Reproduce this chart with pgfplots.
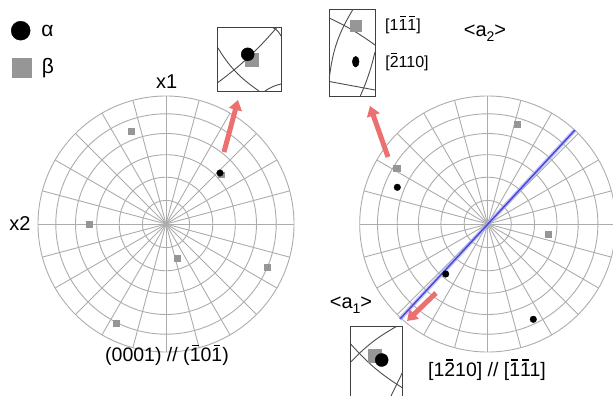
\documentclass[border=0pt]{standalone}
\usepackage{pgfplots}
\pgfplotsset{compat=1.18}
\usepackage{fontspec}
\setmainfont{Liberation Sans}
\usetikzlibrary{arrows.meta}
\newcommand\ob[1]{\setbox0\hbox{#1}\rlap{\hbox to\wd0{\hss\vrule height 0.87em depth -0.81em width 0.62\wd0\hss}}#1}
\definecolor{gridc}{RGB}{172,172,172}
\definecolor{betac}{RGB}{150,150,150}
\definecolor{arrc}{RGB}{236,112,112}
\definecolor{bluel}{RGB}{70,70,215}
\definecolor{blueh}{RGB}{170,170,245}
\newcommand\wulff[2]{%
  \pgfplotsextra{%
    \foreach \r in {23.6,46.8,69.3,90.5,110.2,128}{\draw[gridc,line width=0.9pt] (axis cs:#1,#2) circle[radius=\r pt];}
    \foreach \a in {0,15,...,345}{\draw[gridc,line width=0.9pt] (axis cs:#1,#2) -- ++(\a:128pt);}
  }}
\begin{document}
\begin{tikzpicture}
\begin{axis}[x=1pt,y=1pt,xmin=0,xmax=613,ymin=0,ymax=396,y dir=reverse,hide axis,scale only axis,clip=true]
\wulff{166}{224}
\wulff{487.7}{224}
% blue trace
\draw[blueh,line width=4pt,opacity=0.7] (axis cs:400,319) -- (axis cs:575,130);
\draw[bluel,line width=1.4pt] (axis cs:400,319) -- (axis cs:575,130);
% insets
\draw[black!75,line width=1pt] (axis cs:217.3,27.3) rectangle (axis cs:281,91);
\draw[black!70,line width=0.9pt] (axis cs:217.3,47) to[bend right=12] (axis cs:259,91);
\draw[black!70,line width=0.9pt] (axis cs:277,27.3) to[bend left=6] (axis cs:217.3,83);
\draw[black!70,line width=0.9pt] (axis cs:272,27.3) to[bend left=20] (axis cs:281,36);
\draw[black!70,line width=0.9pt] (axis cs:265,91) to[bend left=10] (axis cs:281,84);
\draw[black!75,line width=1pt] (axis cs:329.3,9.3) rectangle (axis cs:375,96.7);
\draw[black!70,line width=0.9pt] (axis cs:329.3,18) to[bend left=5] (axis cs:375,45);
\draw[black!70,line width=0.9pt] (axis cs:353,9.3) to[bend right=12] (axis cs:329.3,78);
\draw[black!70,line width=0.9pt] (axis cs:375,52) to[bend left=5] (axis cs:360,96.7);
\draw[black!70,line width=0.9pt] (axis cs:329.3,81.5) -- (axis cs:375,90);
\draw[black!75,line width=1pt] (axis cs:350.7,326.7) rectangle (axis cs:402.7,405);
\draw[black!70,line width=0.9pt] (axis cs:350.7,362) to[bend left=8] (axis cs:396,326.7);
\draw[black!70,line width=0.9pt] (axis cs:350.7,344) to[bend right=8] (axis cs:402.7,388);
\draw[black!70,line width=0.9pt] (axis cs:402.7,372) -- (axis cs:391,396);
% arrows
\draw[arrc,line width=5pt,-{Triangle[width=13pt,length=10pt]}] (axis cs:224,152) -- (axis cs:238,100);
\draw[arrc,line width=5pt,-{Triangle[width=13pt,length=10pt]}] (axis cs:388,157) -- (axis cs:370,106);
\draw[arrc,line width=5pt,-{Triangle[width=13pt,length=10pt]}] (axis cs:436,293) -- (axis cs:407,321);
% beta poles
\addplot[only marks,mark=square*,mark size=3.3pt,mark options={draw=betac,fill=betac}] coordinates {
(131,131) (89,224) (177,258) (267,267) (116,323)
(517.3,124) (396.7,168.3) (548.3,234)};
\addplot[only marks,mark=square*,mark size=2.8pt,mark options={draw=betac,fill=betac}] coordinates {(221.3,174.6)};
% alpha poles
\addplot[only marks,mark=*,mark size=3.3pt,mark options={draw=black,fill=black}] coordinates {
(220,173) (397.3,187.3) (445.7,274) (533.3,319.3)};
% inset poles
\addplot[only marks,mark=square*,mark size=6.5pt,mark options={draw=betac,fill=betac}] coordinates {(251.7,59.3) (375,356)};
\addplot[only marks,mark=square*,mark size=5.5pt,mark options={draw=betac,fill=betac}] coordinates {(355.7,26)};
\addplot[only marks,mark=*,mark size=6.5pt,mark options={draw=black,fill=black}] coordinates {(247.7,54.3) (381.7,360)};
\addplot[only marks,mark=*,mark size=4.5pt,mark options={draw=black,fill=black,xscale=0.75,yscale=1.2}] coordinates {(355.7,61.7)};
% legend
\addplot[only marks,mark=*,mark size=9.5pt,mark options={draw=black,fill=black}] coordinates {(20.7,30.7)};
\addplot[only marks,mark=square*,mark size=9.5pt,mark options={draw=betac,fill=betac}] coordinates {(21.7,67.7)};
\node[font=\fontsize{21}{24}\selectfont] at (axis cs:47.5,31) {α};
\node[font=\fontsize{21}{24}\selectfont] at (axis cs:48,68) {β};
% labels
\node[font=\fontsize{20}{24}\selectfont] at (axis cs:166.7,81.7) {x1};
\node[font=\fontsize{20}{24}\selectfont] at (axis cs:20,224) {x2};
\node[font=\fontsize{19.5}{24}\selectfont] at (axis cs:167,355) {(0001) // (\ob{1}0\ob{1})};
\node[font=\fontsize{19.5}{24}\selectfont] at (axis cs:487,370) {[1\ob{2}10] // [\ob{1}\ob{1}1]};
\node[font=\fontsize{16}{20}\selectfont] at (axis cs:403,25) {[1\ob{1}\ob{1}]};
\node[font=\fontsize{16}{20}\selectfont] at (axis cs:407,62) {[\ob{2}110]};
\node[font=\fontsize{20}{24}\selectfont] at (axis cs:485,33) {<a\raisebox{-0.45ex}{\fontsize{14}{14}\selectfont 2}>};
\node[font=\fontsize{20}{24}\selectfont] at (axis cs:351,305) {<a\raisebox{-0.45ex}{\fontsize{14}{14}\selectfont 1}>};
\end{axis}
\pgfresetboundingbox
\path[use as bounding box] (current axis.south west) rectangle (current axis.north east);
\end{tikzpicture}
\end{document}
